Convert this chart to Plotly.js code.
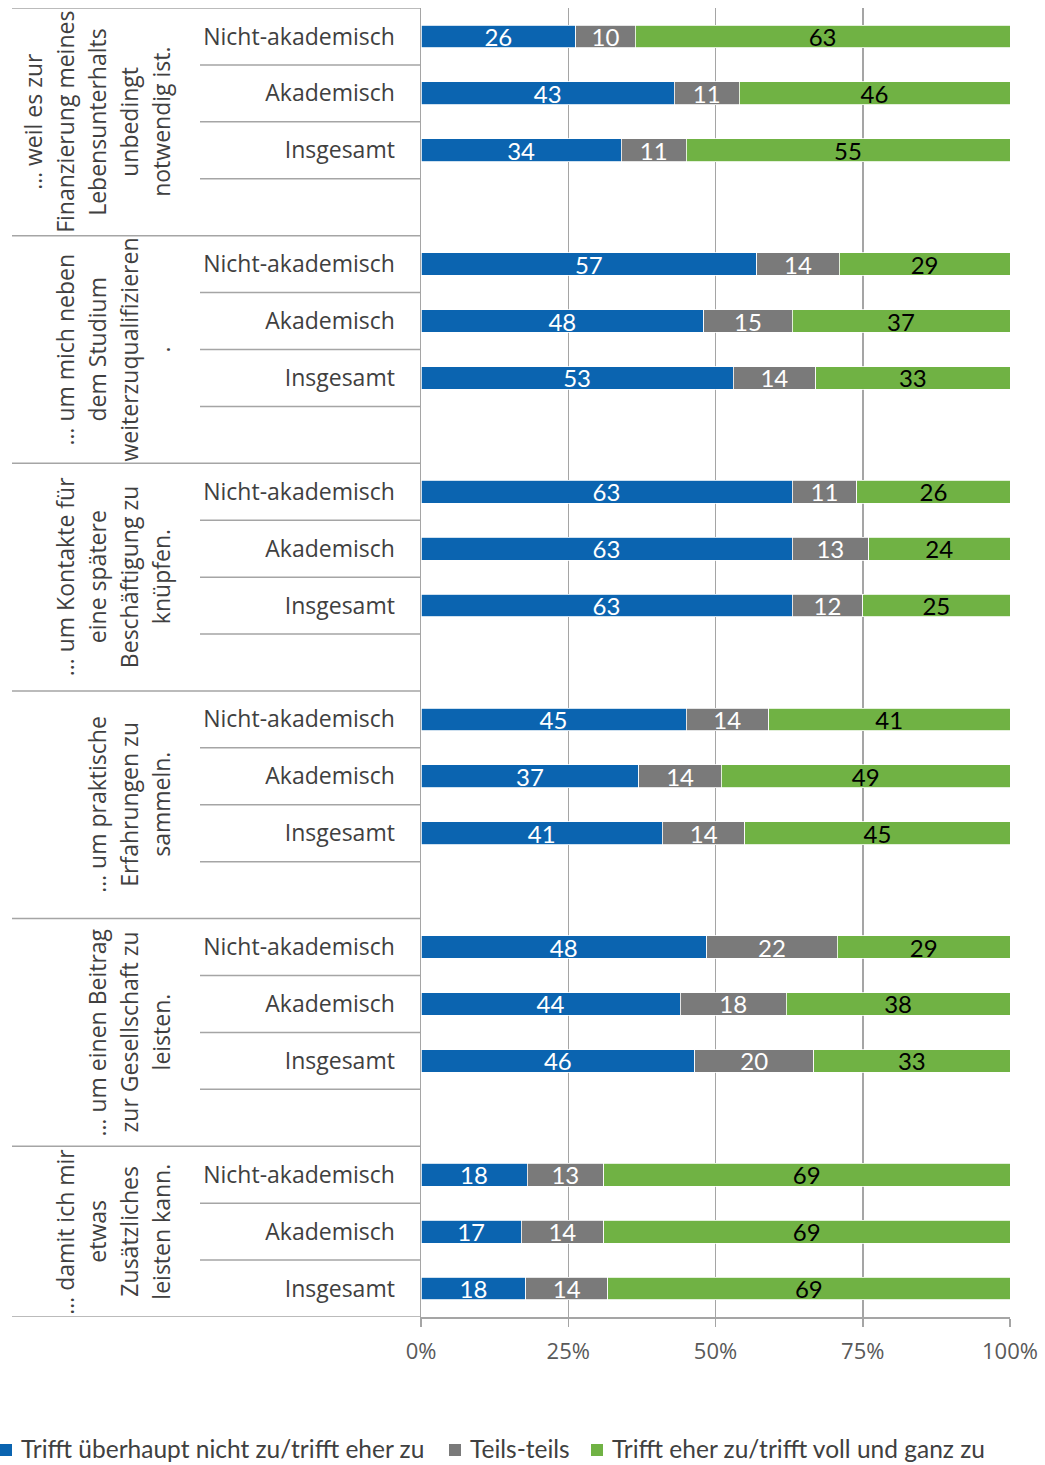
<!DOCTYPE html>
<html>
<head>
<meta charset="utf-8">
<script src="https://cdn.plot.ly/plotly-3.0.1.min.js"></script>
<style>
  html, body { margin: 0; padding: 0; background: #fff; }
  #chart { width: 1045px; height: 1465px; }
</style>
</head>
<body>
<div id="chart"></div>
<script>
// ---- Data ----
const groupLines = [
  ["… weil es zur", "Finanzierung meines", "Lebensunterhalts", "unbedingt", "notwendig ist."],
  ["… um mich neben", "dem Studium", "weiterzuqualifizieren", "."],
  ["… um Kontakte für", "eine spätere", "Beschäftigung zu", "knüpfen."],
  ["… um praktische", "Erfahrungen zu", "sammeln."],
  ["… um einen Beitrag", "zur Gesellschaft zu", "leisten."],
  ["… damit ich mir", "etwas", "Zusätzliches", "leisten kann."]
];
const subCategories = ["Nicht-akademisch", "Akademisch", "Insgesamt"];
const seriesNames = [
  "Trifft überhaupt nicht zu/trifft eher zu",
  "Teils-teils",
  "Trifft eher zu/trifft voll und ganz zu"
];
const nichtZu = [26, 43, 34, 57, 48, 53, 63, 63, 63, 45, 37, 41, 48, 44, 46, 18, 17, 18];
const teils   = [10, 11, 11, 14, 15, 14, 11, 13, 12, 14, 14, 14, 22, 18, 20, 13, 14, 14];
const zu      = [63, 46, 55, 29, 37, 33, 26, 24, 25, 41, 49, 45, 29, 38, 33, 69, 69, 69];
const xTicks = [0, 25, 50, 75, 100];

// ---- Layout helpers ----
const nGroups = groupLines.length;
const slotsPerGroup = 4;
const nSlots = (nGroups - 1) * slotsPerGroup + subCategories.length;
const yPos = [];
const yText = [];
for (let g = 0; g < nGroups; g++) {
  for (let r = 0; r < subCategories.length; r++) {
    yPos.push(g * slotsPerGroup + r);
    yText.push(subCategories[r]);
  }
}

const colors = ["#0B64B0", "#7A7A7A", "#70B244"];
const textColors = ["#FFFFFF", "#FFFFFF", "#000000"];
const values = [nichtZu, teils, zu];

const traces = values.map((v, i) => ({
  type: "bar",
  orientation: "h",
  name: seriesNames[i],
  x: v,
  y: yPos,
  text: v.map(String),
  textposition: "inside",
  insidetextanchor: "middle",
  constraintext: "none",
  textangle: 0,
  textfont: { family: "Lato, sans-serif", size: 24, color: textColors[i] },
  marker: { color: colors[i], line: { color: "#FFFFFF", width: 0.8 } },
  width: 0.4,
  showlegend: false,
  hoverinfo: "skip"
}));

const W = 1045, H = 1465;
const plotL = 421, plotR = 1010, plotT = 8, plotB = 1317;
const plotW = plotR - plotL, plotH = plotB - plotT;
const px2paperX = px => (px - plotL) / plotW;
const px2paperY = py => (plotB - py) / plotH;
const lineColor = "#A5A5A5";

const shapes = [];
// group boundaries
const groupBounds = [];
for (let g = 0; g < nGroups; g++) groupBounds.push(g * slotsPerGroup - 0.5);
groupBounds.push(nSlots - 0.5);
groupBounds.forEach(yb => shapes.push({
  type: "line", xref: "paper", yref: "y",
  x0: px2paperX(12), x1: 0, y0: yb, y1: yb,
  line: { color: lineColor, width: 1.5 }
}));
// sub-category boundaries
for (let g = 0; g < nGroups; g++) {
  const nSub = (g === nGroups - 1) ? subCategories.length - 1 : slotsPerGroup - 1;
  for (let k = 0; k < nSub; k++) {
    const yb = g * slotsPerGroup + k + 0.5;
    shapes.push({
      type: "line", xref: "paper", yref: "y",
      x0: px2paperX(200), x1: 0, y0: yb, y1: yb,
      line: { color: lineColor, width: 1.5 }
    });
  }
}

// group labels (rotated, one annotation per line)
const annotations = [];
const lastLineX = 161, linePitch = 32;
groupLines.forEach((lines, g) => {
  const nSub = (g === nGroups - 1) ? subCategories.length : slotsPerGroup;
  const yc = g * slotsPerGroup + (nSub - 1) / 2;
  const n = lines.length;
  lines.forEach((txt, j) => {
    const xpx = lastLineX - (n - 1 - j) * linePitch;
    annotations.push({
      xref: "paper", yref: "y",
      x: px2paperX(xpx), y: yc,
      text: txt, showarrow: false, textangle: -90,
      xanchor: "center", yanchor: "middle",
      font: { family: "Open Sans, sans-serif", size: 23, color: "#404040" }
    });
  });
});

// legend (drawn manually to match the reference placement)
const legendY = 1448, sq = 12;
const legendSquareX = [0, 449, 591];
seriesNames.forEach((name, i) => {
  const x0 = legendSquareX[i];
  shapes.push({
    type: "rect", xref: "paper", yref: "paper",
    x0: px2paperX(x0), x1: px2paperX(x0 + sq),
    y0: px2paperY(legendY + sq / 2 + 2), y1: px2paperY(legendY - sq / 2 + 2),
    fillcolor: colors[i], line: { width: 0 }
  });
  annotations.push({
    xref: "paper", yref: "paper",
    x: px2paperX(x0 + sq + 7), y: px2paperY(legendY),
    xanchor: "left", yanchor: "middle",
    text: name, showarrow: false,
    font: { family: "Lato, sans-serif", size: 24.5, color: "#404040" }
  });
});

const layout = {
  width: W, height: H,
  margin: { l: plotL, r: W - plotR, t: plotT, b: H - plotB, autoexpand: false },
  paper_bgcolor: "#FFFFFF", plot_bgcolor: "#FFFFFF",
  barmode: "stack", barnorm: "percent",
  showlegend: false,
  xaxis: {
    range: [0, 100],
    tickvals: xTicks,
    ticktext: xTicks.map(t => t + "%"),
    showgrid: true, gridcolor: lineColor, gridwidth: 1.5,
    showline: true, linecolor: lineColor, linewidth: 1.5,
    ticks: "outside", ticklen: 8, tickcolor: lineColor, tickwidth: 1.5,
    zeroline: false,
    ticklabelstandoff: 6,
    tickfont: { family: "Open Sans, sans-serif", size: 22, color: "#595959" },
    fixedrange: true
  },
  yaxis: {
    range: [nSlots - 0.5, -0.5],
    tickvals: yPos, ticktext: yText,
    showgrid: false, zeroline: false,
    showline: true, linecolor: lineColor, linewidth: 1.5,
    ticks: "",
    ticklabelstandoff: 20,
    tickfont: { family: "Open Sans, sans-serif", size: 23, color: "#404040" },
    fixedrange: true
  },
  shapes: shapes,
  annotations: annotations
};

Plotly.newPlot("chart", traces, layout, { displayModeBar: false, staticPlot: true });
</script>
</body>
</html>
